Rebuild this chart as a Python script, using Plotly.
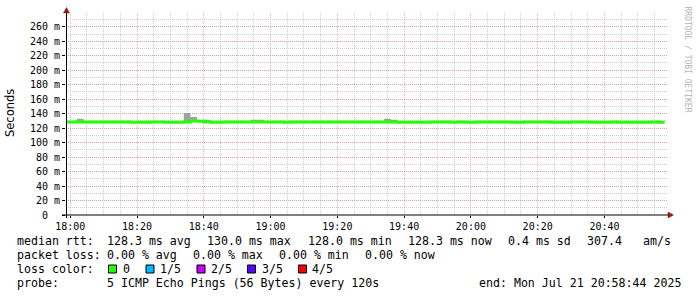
import plotly.graph_objects as go
from datetime import datetime, timedelta

# ---------------- data ----------------
# interval start times (every 120 s) -> minutes after 18:00
start_minutes = list(range(-2, 178, 2))
low_intervals = [18, 20, 22, 28, 30, 32, 42, 44, 64, 98, 100, 102, 104, 106, 114,
                 118, 120, 132, 134, 144, 146, 148, 156, 158, 160, 164, 166, 168,
                 170, 172, 176]
special_median = {36: 130.0, 38: 129.6}
smoke_top = {2: 133.0, 34: 141.0, 36: 135.5, 40: 131.5, 54: 131.5, 56: 131.5,
             94: 133.0, 96: 131.5}

median_ms = []
for m in start_minutes:
    if m in special_median:
        median_ms.append(special_median[m])
    elif m in low_intervals:
        median_ms.append(128.0)
    else:
        median_ms.append(128.4)
smoke_hi = [smoke_top.get(m, v + 0.3) for m, v in zip(start_minutes, median_ms)]
smoke_lo = [v - 0.5 for v in median_ms]

y_ticks = [0, 20, 40, 60, 80, 100, 120, 140, 160, 180, 200, 220, 240, 260]
y_ticktext = ["0\u00a0\u00a0"] + [f"{v} m" for v in y_ticks[1:]]

legend_line1 = ["median rtt:", "128.3 ms avg", "130.0 ms max", "128.0 ms min",
                "128.3 ms now", "0.4 ms sd", "307.4", "am/s"]
legend_line2 = ["packet loss:", "0.00 % avg", "0.00 % max", "0.00 % min", "0.00 % now"]
loss_labels = ["0", "1/5", "2/5", "3/5", "4/5"]
loss_colors = ["#26ff00", "#00b8ff", "#c800ff", "#5e00ff", "#ff0000"]
probe_text = "5 ICMP Echo Pings (56 Bytes) every 120s"
end_text = "end: Mon Jul 21 20:58:44 2025"

# ---------------- build ----------------
base = datetime(2025, 7, 21, 18, 0, 0)
times = [base + timedelta(minutes=m) for m in start_minutes]
times_ext = times + [times[-1] + timedelta(minutes=2)]
def ext(a):
    return a + [a[-1]]

L, R, T, B = 66, 667, 13, 215
def px(x):
    return (x - L) / (R - L)
def py(y):
    return (B - y) / (B - T)

MONO = "DejaVu Sans Mono"
fig = go.Figure()
fig.add_trace(go.Scatter(x=times_ext, y=ext(smoke_lo), mode="lines",
                         line=dict(width=0, shape="hv"), hoverinfo="skip",
                         showlegend=False))
fig.add_trace(go.Scatter(x=times_ext, y=ext(smoke_hi), mode="lines",
                         line=dict(width=0, shape="hv"), fill="tonexty",
                         fillcolor="#a0a0a0", hoverinfo="skip", showlegend=False))
fig.add_trace(go.Scatter(x=times_ext, y=ext(median_ms), mode="lines",
                         line=dict(width=3, color="#26ff00", shape="hv"),
                         hoverinfo="skip", showlegend=False))

grid_red = "rgba(230,110,110,0.5)"
grid_gray = "rgba(170,170,170,0.55)"
fig.update_xaxes(type="date",
                 range=[datetime(2025, 7, 21, 17, 58, 44), datetime(2025, 7, 21, 20, 58, 44)],
                 tick0=base, dtick=20 * 60 * 1000, tickformat="%H:%M",
                 ticks="outside", ticklen=2, tickcolor="black",
                 showgrid=True, gridcolor=grid_red, griddash="1px,1px", gridwidth=1,
                 minor=dict(dtick=5 * 60 * 1000, showgrid=True, gridcolor=grid_gray,
                            griddash="1px,1px", ticks=""),
                 zeroline=False, showline=False,
                 tickfont=dict(family=MONO, size=10, color="black"))
fig.update_yaxes(range=[0, 279], tickvals=y_ticks, ticktext=y_ticktext,
                 ticks="outside", ticklen=3, tickcolor="black",
                 showgrid=True, gridcolor=grid_red, griddash="1px,1px", gridwidth=1,
                 minor=dict(dtick=10, showgrid=True, gridcolor=grid_gray,
                            griddash="1px,1px", ticks=""),
                 zeroline=False, showline=False,
                 tickfont=dict(family=MONO, size=10, color="black"))

shapes = []
# axes lines
shapes.append(dict(type="line", xref="paper", yref="paper", x0=px(62), x1=px(668),
                   y0=py(215), y1=py(215), line=dict(color="black", width=1)))
shapes.append(dict(type="line", xref="paper", yref="paper", x0=px(66.5), x1=px(66.5),
                   y0=py(218), y1=py(12), line=dict(color="black", width=1)))
# arrows
shapes.append(dict(type="path", xref="paper", yref="paper",
                   path=f"M {px(668)} {py(212)} L {px(673.5)} {py(215)} L {px(668)} {py(218)} Z",
                   fillcolor="#8b1a1a", line=dict(color="#8b1a1a", width=0.5)))
shapes.append(dict(type="path", xref="paper", yref="paper",
                   path=f"M {px(63.5)} {py(13)} L {px(66.5)} {py(7.5)} L {px(69.5)} {py(13)} Z",
                   fillcolor="#8b1a1a", line=dict(color="#8b1a1a", width=0.5)))
# loss colour boxes
box_x = [108.5, 146, 197, 247.5, 298.5]
for bx, c in zip(box_x, loss_colors):
    shapes.append(dict(type="rect", xref="paper", yref="paper",
                       x0=px(bx), x1=px(bx + 8), y0=py(273), y1=py(265),
                       fillcolor=c, line=dict(color="black", width=1)))

ann = []
def text(x, y, s, size=11.6, color="black", family=MONO, **kw):
    ann.append(dict(x=px(x), y=py(y), xref="paper", yref="paper", text=s,
                    showarrow=False, xanchor=kw.pop("xanchor", "left"),
                    yanchor=kw.pop("yanchor", "middle"), borderpad=0,
                    font=dict(family=family, size=size, color=color), **kw))

l1_x = [16, 106.3, 206.3, 307.3, 406.7, 506.7, 585.7, 641.5]
for x, s in zip(l1_x, legend_line1):
    text(x, 241, s)
l2_x = [16, 106.3, 192.3, 278.3, 364]
for x, s in zip(l2_x, legend_line2):
    text(x, 255, s)
text(16, 269, "loss color:")
lab_x = [122.3, 159, 209.7, 260.7, 311.3]
for x, s in zip(lab_x, loss_labels):
    text(x, 269, s)
text(16, 283, "probe:")
text(106.3, 283, probe_text)
text(477.5, 283, end_text)
# y axis title
text(10, 113, "Seconds", size=11.5, family="DejaVu Sans", xanchor="center",
     textangle=-90)
# watermark
text(686.5, 59, "RRDTOOL / TOBI OETIKER", size=8, color="#b4b4b4",
     xanchor="center", textangle=90)

fig.update_layout(width=697, height=297,
                  margin=dict(l=L, r=697 - R, t=T, b=297 - B),
                  paper_bgcolor="white", plot_bgcolor="white",
                  shapes=shapes, annotations=ann, hovermode=False,
                  showlegend=False)
fig.write_html("out.html", config={"displayModeBar": False})
